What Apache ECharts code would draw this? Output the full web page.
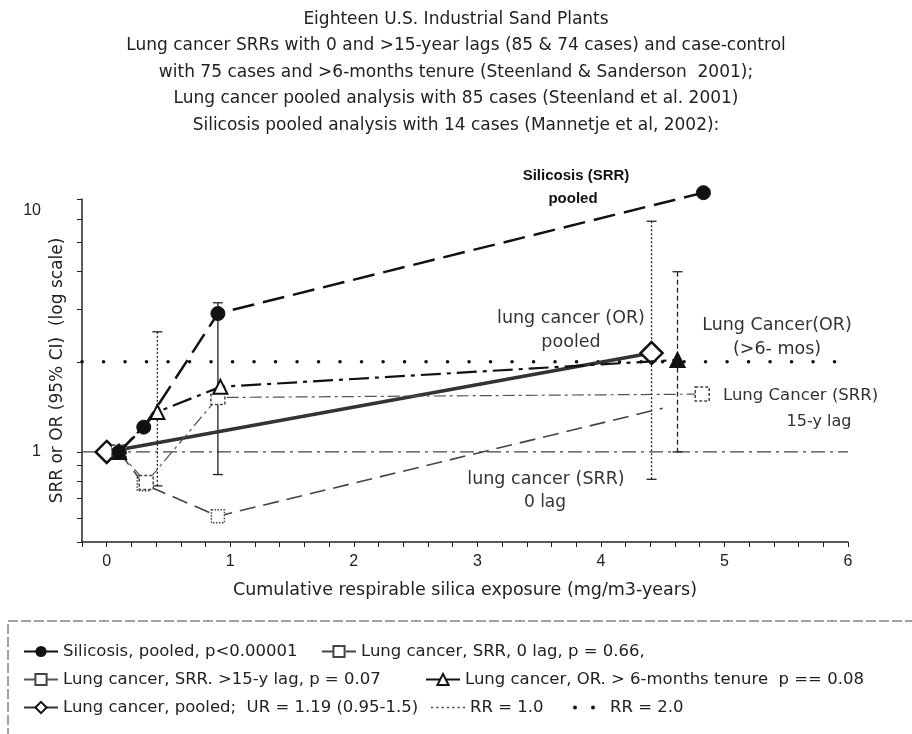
<!DOCTYPE html>
<html>
<head>
<meta charset="utf-8">
<script src="https://cdn.jsdelivr.net/npm/echarts@6/dist/echarts.min.js"></script>
<style>
  html, body { margin: 0; padding: 0; background: #fff; }
  #chart { width: 912px; height: 734px; }
</style>
</head>
<body>
<div id="chart"></div>
<script>
// values: [exposure, SRR/OR]
const silicosis = [[0.1, 1.0], [0.3, 1.21], [0.9, 2.9], [4.83, 7.35]];
const srrLag0 = [[0.1, 1.0], [0.3, 0.78], [0.9, 0.61], [4.5, 1.4]];
const srrLag15 = [[0.1, 1.0], [0.32, 0.79], [0.9, 1.52], [4.82, 1.56]];
const orTenure = [[0.1, 1.0], [0.41, 1.36], [0.92, 1.65], [4.62, 2.03]];
const pooled = [[0, 1.0], [4.41, 2.14]];
// confidence intervals: [exposure, low, high]
const ciBars = [[0.9, 0.84, 3.15], [0.41, 0.77, 2.52], [4.41, 0.81, 5.9], [4.62, 1.0, 4.0]];
const ciDash = [null, [2, 2], [2, 2], [5, 3]];
const rr1 = [[-0.2, 1], [6, 1]];
const rr2 = [[-0.2, 2], [6, 2]];

const xLabels = [0, 1, 2, 3, 4, 5, 6];
const yLabels = [1, 6.4];
const yTicks = [0.5, 0.6, 0.7, 0.8, 0.9, 1, 2, 3, 4, 5, 6, 7];

const names = {
  sil: 'Silicosis, pooled, p<0.00001',
  lag0: 'Lung cancer, SRR, 0 lag, p = 0.66,',
  lag15: 'Lung cancer, SRR. >15-y lag, p = 0.07',
  or: 'Lung cancer, OR. > 6-months tenure  p == 0.08',
  pool: 'Lung cancer, pooled;  UR = 1.19 (0.95-1.5)',
  rr1: 'RR = 1.0',
  rr2: 'RR = 2.0'
};

const FONT = '"DejaVu Sans", "Liberation Sans", sans-serif';
const FONT_B = '"Liberation Sans", Arial, sans-serif';
const xTicks = [];
for (let v = -2; v <= 60; v += 2) xTicks.push(v / 10);

const chart = echarts.init(document.getElementById('chart'));

// one legend block per entry so each sits where the original put it
function legendAt(left, top, item, extra) {
  return Object.assign({
    left: left,
    top: top,
    itemWidth: 34,
    itemHeight: 14,
    itemGap: 0,
    selectedMode: false,
    textStyle: { fontSize: 16.5, color: '#222', fontFamily: FONT },
    data: [item]
  }, extra || {});
}

const dotsIcon = 'path://M0,2a2,2 0 1,1 4,0a2,2 0 1,1 -4,0z M18,2a2,2 0 1,1 4,0a2,2 0 1,1 -4,0z';
const fineIcon = 'path://M0,0h2v1.2h-2z M5,0h2v1.2h-2z M10,0h2v1.2h-2z M15,0h2v1.2h-2z M20,0h2v1.2h-2z M25,0h2v1.2h-2z M30,0h2v1.2h-2z';

const annot = (x, y, text, size, align) => ({
  type: 'text', x: x, y: y, silent: true,
  style: { text: text, font: size + 'px ' + FONT, fill: '#333', align: align || 'center', verticalAlign: 'middle' }
});

chart.setOption({
  animation: false,
  backgroundColor: '#fff',
  grid: { left: 82, right: 64, top: 199, bottom: 192 },
  legend: [
    legendAt(18, 638, names.sil, { lineStyle: { type: 'solid' } }),
    legendAt(316, 638, names.lag0),
    legendAt(18, 666, names.lag15),
    legendAt(420, 666, names.or, { lineStyle: { type: 'solid' } }),
    legendAt(18, 694, names.pool),
    legendAt(426, 694, { name: names.rr1, icon: fineIcon }),
    legendAt(568, 694, { name: names.rr2, icon: dotsIcon }, {
      itemWidth: 22,
      textStyle: { fontSize: 16.5, color: '#222', fontFamily: FONT, padding: [0, 0, 0, 10] }
    })
  ],
  xAxis: {
    type: 'value',
    min: -0.2,
    max: 6,
    name: 'Cumulative respirable silica exposure (mg/m3-years)',
    nameLocation: 'middle',
    nameGap: 39,
    nameMoveOverlap: false,
    nameTextStyle: { fontSize: 17.5, color: '#222', fontFamily: FONT },
    axisLine: { onZero: false, lineStyle: { color: '#222', width: 1.5 } },
    axisTick: { customValues: xTicks, length: 5, lineStyle: { color: '#222' } },
    axisLabel: { customValues: xLabels, fontSize: 16, color: '#222', margin: 12, fontFamily: FONT_B },
    splitLine: { show: false }
  },
  yAxis: {
    type: 'log',
    logBase: 10,
    min: 0.5,
    max: 7,
    name: 'SRR or OR (95% CI)  (log scale)',
    nameLocation: 'middle',
    nameGap: 16,
    nameMoveOverlap: false,
    nameTextStyle: { fontSize: 17, color: '#222', fontFamily: FONT },
    axisLine: { show: true, onZero: false, lineStyle: { color: '#222', width: 1.5 } },
    axisTick: { customValues: yTicks, length: 5, lineStyle: { color: '#222' } },
    axisLabel: {
      customValues: yLabels,
      fontSize: 16,
      color: '#222',
      margin: 41,
      fontFamily: FONT_B,
      formatter: v => (v > 5 ? '10' : '1')
    },
    splitLine: { show: false }
  },
  graphic: [
    {
      type: 'text', x: 456, y: 6, silent: true,
      style: {
        text: 'Eighteen U.S. Industrial Sand Plants\n' +
          'Lung cancer SRRs with 0 and >15-year lags (85 & 74 cases) and case-control\n' +
          'with 75 cases and >6-months tenure (Steenland & Sanderson  2001);\n' +
          'Lung cancer pooled analysis with 85 cases (Steenland et al. 2001)\n' +
          'Silicosis pooled analysis with 14 cases (Mannetje et al, 2002):',
        font: '17px ' + FONT, fill: '#222', align: 'center', verticalAlign: 'top', lineHeight: 26.5
      }
    },
    { type: 'rect', silent: true, shape: { x: 8, y: 621, width: 1000, height: 300 }, style: { fill: 'none', stroke: '#444', lineWidth: 1, lineDash: [10, 3] } },
    { type: 'text', x: 576, y: 176, silent: true, style: { text: 'Silicosis (SRR)', font: 'bold 15px ' + FONT_B, fill: '#111', align: 'center', verticalAlign: 'middle' } },
    { type: 'text', x: 573, y: 199, silent: true, style: { text: 'pooled', font: 'bold 15px ' + FONT_B, fill: '#111', align: 'center', verticalAlign: 'middle' } },
    annot(571, 318, 'lung cancer (OR)', 17.5),
    annot(571, 342, 'pooled', 17.5),
    annot(777, 325, 'Lung Cancer(OR)', 17.5),
    annot(777, 349, '(>6- mos)', 17.5),
    annot(723, 396, 'Lung Cancer (SRR)', 16.5, 'left'),
    annot(819, 422, '15-y lag', 16),
    annot(546, 479, 'lung cancer (SRR)', 17.5),
    annot(545, 503, '0 lag', 17)
  ],
  series: [
    {
      name: names.rr1,
      type: 'line',
      data: rr1,
      symbol: 'none',
      itemStyle: { color: '#444' },
      lineStyle: { color: '#444', width: 1.2, type: [14, 5, 3, 5] },
      z: 1
    },
    {
      name: names.rr2,
      type: 'line',
      data: rr2,
      symbol: 'none',
      itemStyle: { color: '#111' },
      lineStyle: { color: '#111', width: 3.5, type: [0.1, 21.4], cap: 'round' },
      z: 1
    },
    {
      type: 'custom',
      name: 'CI',
      data: ciBars,
      encode: { x: 0, y: [1, 2] },
      z: 2,
      renderItem(params, api) {
        const x = api.value(0);
        const top = api.coord([x, api.value(2)]);
        const bot = api.coord([x, api.value(1)]);
        const st = { stroke: '#222', lineWidth: 1.3, lineDash: ciDash[params.dataIndex] };
        const cap = { stroke: '#222', lineWidth: 1.3 };
        return {
          type: 'group',
          children: [
            { type: 'line', shape: { x1: top[0], y1: top[1], x2: bot[0], y2: bot[1] }, style: st },
            { type: 'line', shape: { x1: top[0] - 5, y1: top[1], x2: top[0] + 5, y2: top[1] }, style: cap },
            { type: 'line', shape: { x1: bot[0] - 5, y1: bot[1], x2: bot[0] + 5, y2: bot[1] }, style: cap }
          ]
        };
      }
    },
    {
      name: names.pool,
      type: 'line',
      data: pooled,
      symbol: 'diamond',
      symbolSize: 22,
      itemStyle: { color: '#fff', borderColor: '#111', borderWidth: 2.5 },
      lineStyle: { color: '#333', width: 3.5 },
      z: 3
    },
    {
      name: names.lag0,
      type: 'line',
      data: srrLag0.map((p, i) => (i === srrLag0.length - 1 ? { value: p, symbol: 'none' } : p)),
      symbol: 'rect',
      symbolSize: 13,
      itemStyle: { color: '#fff', borderColor: '#444', borderWidth: 1.5, borderType: 'dotted' },
      lineStyle: { color: '#444', width: 1.6, type: [16, 8] },
      z: 4
    },
    {
      name: names.lag15,
      type: 'line',
      data: srrLag15,
      symbol: 'rect',
      symbolSize: 14,
      itemStyle: { color: '#fff', borderColor: '#444', borderWidth: 1.5, borderType: [3, 2] },
      lineStyle: { color: '#555', width: 1.2, type: [12, 4, 3, 4] },
      z: 4
    },
    {
      name: names.or,
      type: 'line',
      data: orTenure.map((p, i) => (i === 0 || i === orTenure.length - 1 ? { value: p, itemStyle: { color: '#111' } } : p)),
      symbol: 'triangle',
      symbolSize: 14,
      itemStyle: { color: '#fff', borderColor: '#111', borderWidth: 2 },
      lineStyle: { color: '#111', width: 2.2, type: [20, 6, 4, 6] },
      z: 5
    },
    {
      name: names.sil,
      type: 'line',
      data: silicosis,
      clip: false,
      symbol: 'circle',
      symbolSize: 14,
      itemStyle: { color: '#111', borderColor: '#111' },
      lineStyle: { color: '#111', width: 2.5, type: [22, 9] },
      z: 6
    }
  ]
});
</script>
</body>
</html>
